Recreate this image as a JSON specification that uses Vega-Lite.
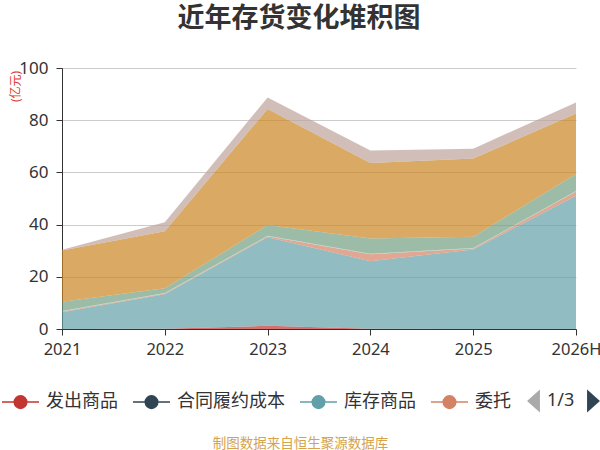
{
  "$schema": "https://vega.github.io/schema/vega-lite/v6.json",
  "width": 514,
  "height": 261,
  "autosize": "none",
  "padding": {"left": 62, "top": 68, "right": 24, "bottom": 121},
  "title": {
    "text": "近年存货变化堆积图",
    "fontSize": 27,
    "fontWeight": "bold",
    "color": "#333333",
    "anchor": "middle",
    "dx": -20,
    "offset": 26
  },
  "layer": [
    {
      "data": {
        "values": [
          {"year": "2021", "name": "发出商品", "o": 1, "value": 0},
          {"year": "2021", "name": "合同履约成本", "o": 2, "value": 0},
          {"year": "2021", "name": "库存商品", "o": 3, "value": 6.4},
          {"year": "2021", "name": "委托加工物资", "o": 4, "value": 0.3},
          {"year": "2021", "name": "在产品", "o": 5, "value": 0.2},
          {"year": "2021", "name": "周转材料", "o": 6, "value": 3.5},
          {"year": "2021", "name": "原材料", "o": 7, "value": 19.7},
          {"year": "2021", "name": "自制半成品", "o": 8, "value": 0.3},
          {"year": "2022", "name": "发出商品", "o": 1, "value": 0.1},
          {"year": "2022", "name": "合同履约成本", "o": 2, "value": 0},
          {"year": "2022", "name": "库存商品", "o": 3, "value": 13.2},
          {"year": "2022", "name": "委托加工物资", "o": 4, "value": 0.3},
          {"year": "2022", "name": "在产品", "o": 5, "value": 0.2},
          {"year": "2022", "name": "周转材料", "o": 6, "value": 1.8},
          {"year": "2022", "name": "原材料", "o": 7, "value": 21.9},
          {"year": "2022", "name": "自制半成品", "o": 8, "value": 3.4},
          {"year": "2023", "name": "发出商品", "o": 1, "value": 1.2},
          {"year": "2023", "name": "合同履约成本", "o": 2, "value": 0},
          {"year": "2023", "name": "库存商品", "o": 3, "value": 34.0},
          {"year": "2023", "name": "委托加工物资", "o": 4, "value": 0.3},
          {"year": "2023", "name": "在产品", "o": 5, "value": 0.2},
          {"year": "2023", "name": "周转材料", "o": 6, "value": 4.1},
          {"year": "2023", "name": "原材料", "o": 7, "value": 44.5},
          {"year": "2023", "name": "自制半成品", "o": 8, "value": 4.4},
          {"year": "2024", "name": "发出商品", "o": 1, "value": 0.1},
          {"year": "2024", "name": "合同履约成本", "o": 2, "value": 0},
          {"year": "2024", "name": "库存商品", "o": 3, "value": 25.9},
          {"year": "2024", "name": "委托加工物资", "o": 4, "value": 2.6},
          {"year": "2024", "name": "在产品", "o": 5, "value": 0.2},
          {"year": "2024", "name": "周转材料", "o": 6, "value": 5.9},
          {"year": "2024", "name": "原材料", "o": 7, "value": 28.9},
          {"year": "2024", "name": "自制半成品", "o": 8, "value": 4.8},
          {"year": "2025", "name": "发出商品", "o": 1, "value": 0},
          {"year": "2025", "name": "合同履约成本", "o": 2, "value": 0},
          {"year": "2025", "name": "库存商品", "o": 3, "value": 30.5},
          {"year": "2025", "name": "委托加工物资", "o": 4, "value": 0.3},
          {"year": "2025", "name": "在产品", "o": 5, "value": 0.2},
          {"year": "2025", "name": "周转材料", "o": 6, "value": 4.3},
          {"year": "2025", "name": "原材料", "o": 7, "value": 30.0},
          {"year": "2025", "name": "自制半成品", "o": 8, "value": 3.8},
          {"year": "2026H", "name": "发出商品", "o": 1, "value": 0},
          {"year": "2026H", "name": "合同履约成本", "o": 2, "value": 0},
          {"year": "2026H", "name": "库存商品", "o": 3, "value": 51.1},
          {"year": "2026H", "name": "委托加工物资", "o": 4, "value": 1.6},
          {"year": "2026H", "name": "在产品", "o": 5, "value": 0.2},
          {"year": "2026H", "name": "周转材料", "o": 6, "value": 6.5},
          {"year": "2026H", "name": "原材料", "o": 7, "value": 23.2},
          {"year": "2026H", "name": "自制半成品", "o": 8, "value": 4.2}
        ]
      },
      "mark": {"type": "area", "opacity": 0.7},
      "encoding": {
        "x": {
          "field": "year",
          "type": "ordinal",
          "scale": {"type": "point", "padding": 0},
          "axis": {
            "labelAngle": 0,
            "labelFontSize": 16.5,
            "tickSize": 6,
            "labelPadding": 6,
            "grid": false,
            "title": "制图数据来自恒生聚源数据库",
            "titleFontSize": 13.5,
            "titleFontWeight": "normal",
            "titleColor": "#d4a34c",
            "titleX": 238,
            "titleY": 114,
            "titleAlign": "center",
            "titleBaseline": "middle"
          }
        },
        "y": {
          "field": "value",
          "type": "quantitative",
          "stack": "zero",
          "scale": {"domain": [0, 100], "nice": false},
          "axis": {
            "values": [0, 20, 40, 60, 80, 100],
            "labelFontSize": 17,
            "tickSize": 6,
            "labelPadding": 8,
            "gridColor": "#cccccc",
            "title": "(亿元)",
            "titleFontSize": 12,
            "titleFontWeight": "normal",
            "titleColor": "#e0392f",
            "titleAngle": -90,
            "titleX": -47,
            "titleY": 18,
            "titleAlign": "center",
            "titleBaseline": "middle"
          }
        },
        "order": {"field": "o", "type": "quantitative"},
        "color": {
          "field": "name",
          "type": "nominal",
          "scale": {
            "domain": ["发出商品", "合同履约成本", "库存商品", "委托加工物资", "在产品", "周转材料", "原材料", "自制半成品"],
            "range": ["#c23531", "#2f4554", "#61a0a8", "#d48265", "#91c7ae", "#749f83", "#ca8622", "#bda29a"]
          },
          "legend": {
            "values": ["发出商品", "合同履约成本", "库存商品", "委托加工物资"],
            "labelExpr": "datum.label === '委托加工物资' ? '委托' : datum.label",
            "title": null,
            "orient": "none",
            "direction": "horizontal",
            "legendX": -61,
            "legendY": 314.5,
            "padding": 0,
            "symbolType": "M-1,0L-0.34,0M0.34,0L1,0M-0.34,0A0.34,0.34,0,1,1,0.34,0A0.34,0.34,0,1,1,-0.34,0Z",
            "symbolSize": 1369,
            "symbolStrokeWidth": 1.5,
            "symbolOpacity": 1,
            "labelFontSize": 18,
            "labelColor": "#333333",
            "labelOffset": 6,
            "columnPadding": 12,
            "labelLimit": 200,
            "encode": {
              "symbols": {
                "update": {
                  "stroke": {"scale": "color", "field": "value"},
                  "opacity": {"value": 1}
                }
              }
            }
          }
        }
      }
    },
    {
      "data": {"values": [{"year": "2021", "page": "1/3"}]},
      "mark": {"type": "point", "filled": true, "opacity": 0, "color": "#aaaaaa"},
      "encoding": {
        "x": {"field": "year", "type": "ordinal"},
        "y": {"datum": 0},
        "shape": {
          "field": "page",
          "type": "nominal",
          "scale": {"domain": ["1/3"], "range": ["M0.56,-1L-0.56,0L0.56,1Z"]},
          "legend": {
            "title": null,
            "orient": "none",
            "direction": "horizontal",
            "legendX": 460,
            "legendY": 321.5,
            "padding": 0,
            "symbolSize": 529,
            "symbolStrokeWidth": 0,
            "symbolOpacity": 1,
            "labelFontSize": 18,
            "labelColor": "#333333",
            "labelOffset": 2,
            "encode": {"symbols": {"update": {"opacity": {"value": 1}}}}
          }
        }
      }
    },
    {
      "data": {"values": [{"year": "2021", "pager": "next"}]},
      "mark": {"type": "point", "filled": true, "opacity": 0, "color": "#2f4554"},
      "encoding": {
        "x": {"field": "year", "type": "ordinal"},
        "y": {"datum": 0},
        "size": {
          "field": "pager",
          "type": "ordinal",
          "scale": {"domain": ["next"], "range": [529, 529]},
          "legend": {
            "title": null,
            "orient": "none",
            "direction": "horizontal",
            "legendX": 520,
            "legendY": 321.5,
            "padding": 0,
            "symbolType": "M-0.56,-1L0.56,0L-0.56,1Z",
            "symbolStrokeWidth": 0,
            "symbolOpacity": 1,
            "symbolFillColor": "#2f4554",
            "labelExpr": "''",
            "encode": {"symbols": {"update": {"opacity": {"value": 1}}}}
          }
        }
      }
    }
  ],
  "config": {
    "font": "'Noto Sans', 'Noto Sans CJK SC', sans-serif",
    "view": {"stroke": null},
    "axis": {
      "domainColor": "#333333",
      "tickColor": "#333333",
      "labelColor": "#333333",
      "domainWidth": 1,
      "gridColor": "#cccccc"
    }
  }
}
